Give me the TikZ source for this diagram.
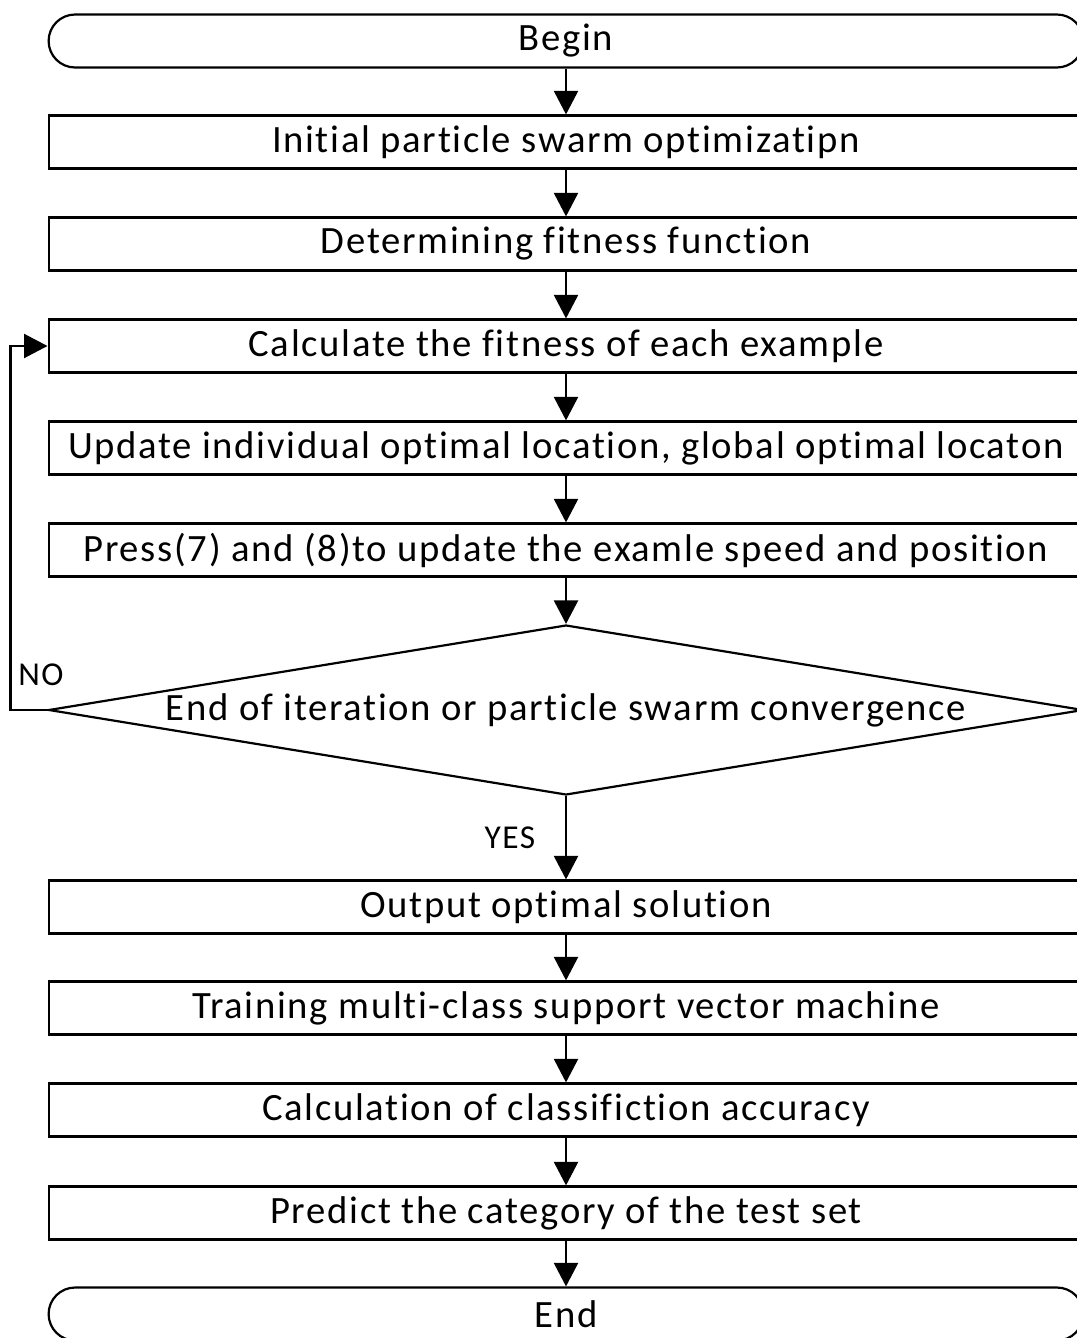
\documentclass[tikz,border=0pt]{standalone}
\usepackage{fontspec}
\setmainfont{Carlito}[Ligatures=NoCommon, LetterSpace=4.4]
\usetikzlibrary{arrows.meta, shapes.geometric}

\begin{document}
\begin{tikzpicture}[
  x=0.02cm, y=-0.02cm,
  font=\fontsize{22}{26}\selectfont,
  line width=1.25pt,
  box/.style={draw, minimum width=20.7cm, minimum height=1.06cm, inner sep=0pt},
  terminal/.style={draw, rounded corners=0.53cm, minimum width=20.7cm, minimum height=1.06cm, inner sep=0pt},
  decision/.style={draw, diamond, aspect=6.1, minimum width=20.7cm, minimum height=3.4cm, inner sep=0pt},
  answer/.style={font=\fontsize{19}{22}\selectfont},
  arrow/.style={-{Triangle[length=0.47cm, width=0.48cm]}}
]
\useasboundingbox (0,0) rectangle (1077,1338);
\node[terminal] (begin) at (566,41) {Begin};
\node[box] (init) at (566,142) {Initial particle swarm optimizatipn};
\node[box] (fitfn) at (566,244) {Determining fitness function};
\node[box] (calc) at (566,346) {Calculate the fitness of each example};
\node[box] (update) at (566,448) {Update individual optimal location, global optimal locaton};
\node[box] (press) at (566,550) {Press(7) and (8)to update the examle speed and position};
\node[decision] (decide) at (566,710) {End of iteration or particle swarm convergence};
\node[box] (output) at (566,907) {Output optimal solution};
\node[box] (train) at (566,1008) {Training multi-class support vector machine};
\node[box] (accuracy) at (566,1110) {Calculation of classifiction accuracy};
\node[box] (predict) at (566,1213) {Predict the category of the test set};
\node[terminal] (finish) at (566,1314) {End};

\draw[arrow] (begin) -- (init);
\draw[arrow] (init) -- (fitfn);
\draw[arrow] (fitfn) -- (calc);
\draw[arrow] (calc) -- (update);
\draw[arrow] (update) -- (press);
\draw[arrow] (press) -- (decide);
\draw[arrow] (decide) -- (output);
\draw[arrow] (output) -- (train);
\draw[arrow] (train) -- (accuracy);
\draw[arrow] (accuracy) -- (predict);
\draw[arrow] (predict) -- (finish);
\draw[arrow] (decide.west) -- ++(-37,0) |- (calc.west);

\node[answer] (no) at (41,675) {NO};
\node[answer] (yes) at (510,838) {YES};
\end{tikzpicture}
\end{document}
